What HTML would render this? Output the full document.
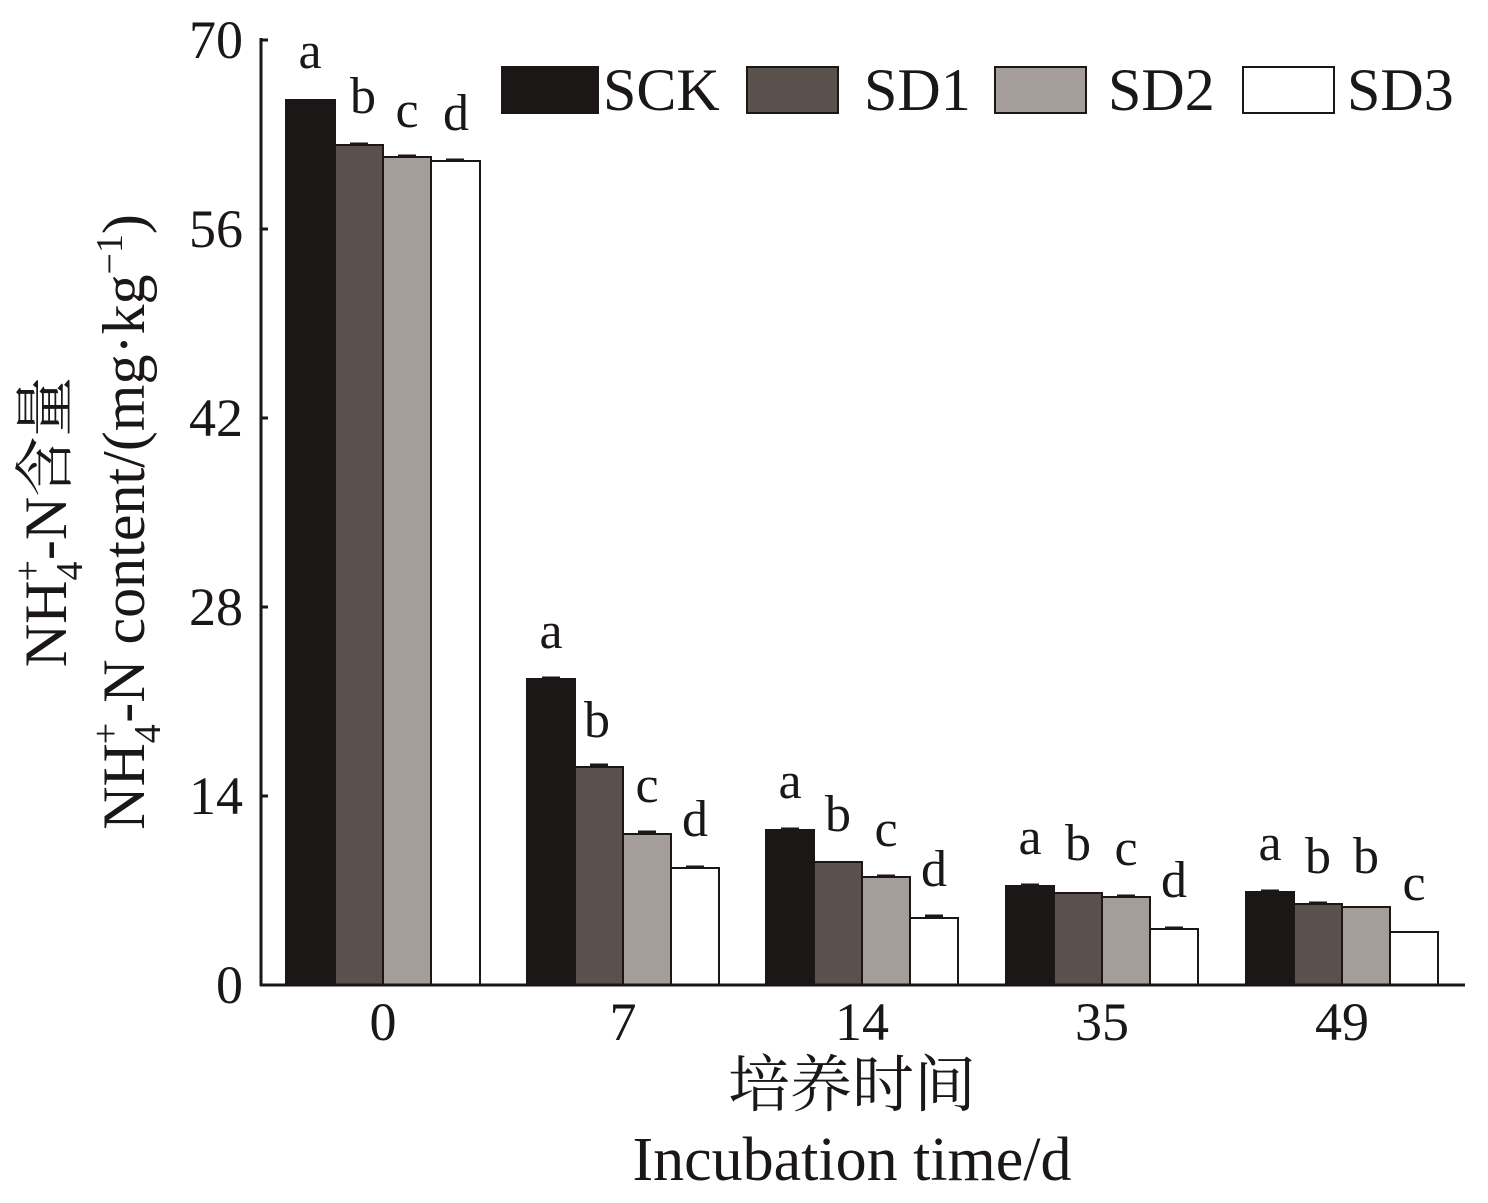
<!DOCTYPE html>
<html><head><meta charset="utf-8"><style>body{margin:0;background:#fff}</style></head><body>
<svg width="1488" height="1198" xmlns="http://www.w3.org/2000/svg" font-family="'Liberation Serif','Noto Serif CJK SC',serif">
<rect width="1488" height="1198" fill="#fff"/>
<g stroke="#1a1716" stroke-width="2">
<rect x="286" y="100" width="49" height="885" fill="#1a1716"/>
<rect x="335" y="145" width="48" height="840" fill="#5a504c"/>
<rect x="383" y="157" width="48" height="828" fill="#a59d9a"/>
<rect x="431" y="161" width="49" height="824" fill="#fff"/>
<rect x="527" y="679" width="48" height="306" fill="#1a1716"/>
<rect x="575" y="767" width="48" height="218" fill="#5a504c"/>
<rect x="623" y="834" width="48" height="151" fill="#a59d9a"/>
<rect x="671" y="868" width="48" height="117" fill="#fff"/>
<rect x="766" y="830" width="48" height="155" fill="#1a1716"/>
<rect x="814" y="862" width="48" height="123" fill="#5a504c"/>
<rect x="862" y="877" width="48" height="108" fill="#a59d9a"/>
<rect x="910" y="918" width="48" height="67" fill="#fff"/>
<rect x="1006" y="886" width="48" height="99" fill="#1a1716"/>
<rect x="1054" y="893" width="48" height="92" fill="#5a504c"/>
<rect x="1102" y="897" width="48" height="88" fill="#a59d9a"/>
<rect x="1150" y="929" width="48" height="56" fill="#fff"/>
<rect x="1246" y="892" width="48" height="93" fill="#1a1716"/>
<rect x="1294" y="904" width="48" height="81" fill="#5a504c"/>
<rect x="1342" y="907" width="48" height="78" fill="#a59d9a"/>
<rect x="1390" y="932" width="48" height="53" fill="#fff"/>
<rect x="502" y="67" width="96" height="46" fill="#1a1716"/>
<rect x="747" y="67" width="91" height="46" fill="#5a504c"/>
<rect x="995" y="67" width="91" height="46" fill="#a59d9a"/>
<rect x="1243" y="67" width="91" height="46" fill="#fff"/>
</g>
<g stroke="#1a1716" stroke-width="3">
<line x1="350" y1="144" x2="368" y2="144"/><line x1="398" y1="156" x2="416" y2="156"/><line x1="446" y1="160" x2="464" y2="160"/>
<line x1="542" y1="678" x2="560" y2="678"/><line x1="590" y1="765" x2="608" y2="765"/><line x1="638" y1="832" x2="656" y2="832"/><line x1="686" y1="867" x2="704" y2="867"/>
<line x1="781" y1="829" x2="799" y2="829"/><line x1="877" y1="876" x2="895" y2="876"/><line x1="925" y1="916" x2="943" y2="916"/>
<line x1="1021" y1="885" x2="1039" y2="885"/><line x1="1117" y1="896" x2="1135" y2="896"/><line x1="1165" y1="928" x2="1183" y2="928"/>
<line x1="1261" y1="891" x2="1279" y2="891"/><line x1="1309" y1="903" x2="1327" y2="903"/>
</g>
<g stroke="#1a1716" stroke-width="3" fill="none">
<line x1="261" y1="38" x2="261" y2="986"/>
<line x1="260" y1="985" x2="1465" y2="985"/>
<line x1="261" y1="40" x2="268" y2="40"/>
<line x1="261" y1="229" x2="268" y2="229"/>
<line x1="261" y1="418" x2="268" y2="418"/>
<line x1="261" y1="607" x2="268" y2="607"/>
<line x1="261" y1="796" x2="268" y2="796"/>
</g>
<g font-size="54" fill="#1a1716" text-anchor="end">
<text x="243" y="58">70</text><text x="243" y="247">56</text><text x="243" y="436">42</text>
<text x="243" y="625">28</text><text x="243" y="814">14</text><text x="243" y="1003">0</text>
</g>
<g font-size="54" fill="#1a1716" text-anchor="middle">
<text x="383" y="1040">0</text><text x="623" y="1040">7</text><text x="862" y="1040">14</text>
<text x="1102" y="1040">35</text><text x="1342" y="1040">49</text>
<text x="852" y="1106" font-size="62">培养时间</text>
<text x="852" y="1180" font-size="62">Incubation time/d</text>
</g>
<g font-size="60" fill="#1a1716">
<text x="603" y="110">SCK</text><text x="864" y="110">SD1</text>
<text x="1108" y="110">SD2</text><text x="1347" y="110">SD3</text>
</g>
<g font-size="52" fill="#1a1716" text-anchor="middle">
<text x="310" y="68">a</text><text x="363" y="113">b</text><text x="407" y="127">c</text><text x="456" y="130">d</text>
<text x="551" y="648">a</text><text x="597" y="737">b</text><text x="647" y="802">c</text><text x="695" y="836">d</text>
<text x="790" y="798">a</text><text x="838" y="831">b</text><text x="886" y="846">c</text><text x="934" y="886">d</text>
<text x="1030" y="854">a</text><text x="1078" y="860">b</text><text x="1126" y="865">c</text><text x="1174" y="897">d</text>
<text x="1270" y="860">a</text><text x="1318" y="873">b</text><text x="1366" y="873">b</text><text x="1414" y="900">c</text>
</g>
<g font-size="60" fill="#1a1716" text-anchor="middle">
<text transform="translate(66,522) rotate(-90)">NH<tspan font-size="38" dy="16">4</tspan><tspan font-size="38" dx="-20" dy="-42">+</tspan><tspan dy="26">-N含量</tspan></text>
<text transform="translate(144,522) rotate(-90)">NH<tspan font-size="38" dy="16">4</tspan><tspan font-size="38" dx="-20" dy="-42">+</tspan><tspan dy="26">-N content/(mg·kg</tspan><tspan font-size="38" dy="-22">−1</tspan><tspan dy="22">)</tspan></text>
</g>
</svg>
</body></html>
